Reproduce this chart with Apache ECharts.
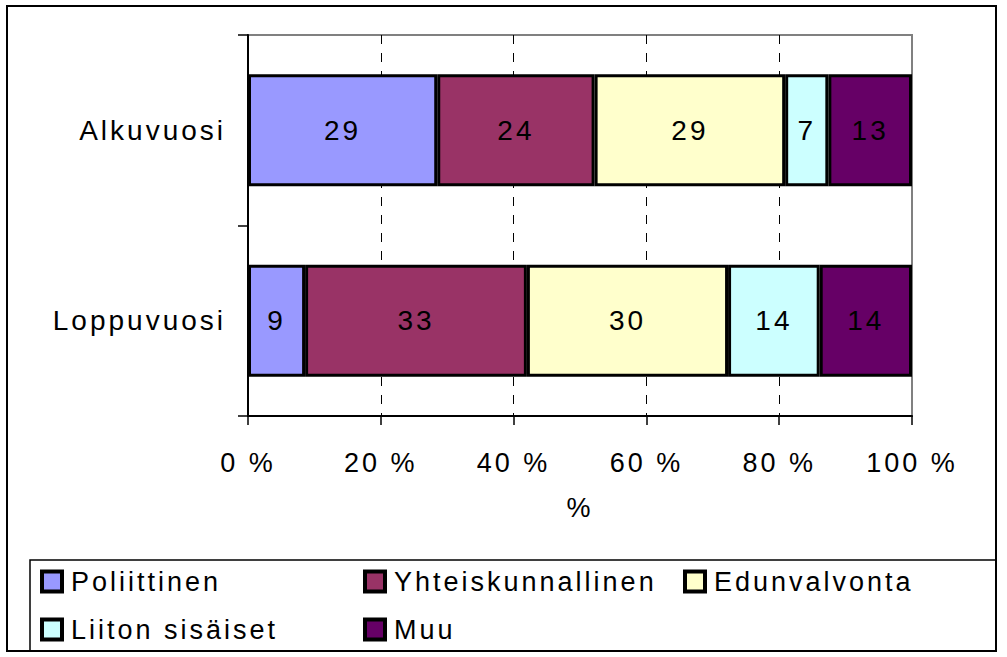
<!DOCTYPE html>
<html>
<head>
<meta charset="utf-8">
<script src="https://cdn.jsdelivr.net/npm/echarts@6/dist/echarts.min.js"></script>
<style>
  html, body { margin: 0; padding: 0; background: #fff; }
  #chart { width: 1007px; height: 657px; }
  #chart text { letter-spacing: 3px; }
</style>
</head>
<body>
<div id="chart"></div>
<script>
// Categories (top to bottom)
var categories = ['Alkuvuosi', 'Loppuvuosi'];
// Series names
var seriesNames = ['Poliittinen', 'Yhteiskunnallinen', 'Edunvalvonta', 'Liiton sisäiset', 'Muu'];
// Shares (%) per series: [Alkuvuosi, Loppuvuosi]
var poliittinen = [28.5, 8.6];
var yhteiskunnallinen = [23.7, 33.4];
var edunvalvonta = [28.7, 30.3];
var liitonSisaiset = [6.5, 13.8];
var muu = [12.6, 13.9];
// X tick values
var xTicks = [0, 20, 40, 60, 80, 100];

var seriesValues = [poliittinen, yhteiskunnallinen, edunvalvonta, liitonSisaiset, muu];
var colors = ['#9999FF', '#993366', '#FFFFCC', '#CCFFFF', '#660066'];

var chart = echarts.init(document.getElementById('chart'), null, { renderer: 'svg' });
var font = 'Liberation Sans, Arial, sans-serif';

var series = seriesNames.map(function (name, i) {
  return {
    name: name,
    type: 'bar',
    stack: 'total',
    barWidth: 112,
    data: seriesValues[i],
    itemStyle: { color: colors[i], borderColor: '#000', borderWidth: 3 },
    label: {
      show: true,
      position: 'inside',
      color: '#000',
      fontFamily: font,
      fontSize: 28,
      formatter: function (p) { return String(Math.round(p.value)); }
    },
    emphasis: { disabled: true }
  };
});

// rich styles for legend boxes
var legendRich = {
  t: { color: '#000', fontSize: 27, fontFamily: font, lineHeight: 30, padding: [0, 0, 0, 11], verticalAlign: 'middle' }
};
colors.forEach(function (c, i) {
  legendRich['b' + i] = { width: 16, height: 16, backgroundColor: c, borderColor: '#000', borderWidth: 4, verticalAlign: 'middle' };
});

var option = {
  animation: false,
  color: colors,
  textStyle: { fontFamily: font },
  grid: {
    left: 248, right: 95, top: 35, bottom: 241,
    show: true, borderColor: '#808080', borderWidth: 2, backgroundColor: 'transparent'
  },
  xAxis: {
    type: 'value',
    min: xTicks[0],
    max: xTicks[xTicks.length - 1],
    interval: xTicks[1] - xTicks[0],
    name: '%',
    nameLocation: 'middle',
    nameGap: 92,
    nameTextStyle: { color: '#000', fontSize: 27, fontFamily: font, verticalAlign: 'middle' },
    axisLine: { show: true, lineStyle: { color: '#000', width: 2 } },
    axisTick: { show: true, length: 9, lineStyle: { color: '#000', width: 1.5 } },
    axisLabel: {
      color: '#000', fontSize: 27, fontFamily: font, margin: 33,
      formatter: '{value} %'
    },
    splitLine: {
      show: true, showMinLine: false, showMaxLine: false,
      lineStyle: { color: '#000', width: 1, type: [9, 9] }
    }
  },
  yAxis: {
    type: 'category',
    inverse: true,
    data: categories,
    axisLine: { show: true, lineStyle: { color: '#000', width: 2 } },
    axisTick: { show: true, length: 10, lineStyle: { color: '#000', width: 1.5 } },
    axisLabel: { color: '#000', fontSize: 28, fontFamily: font, margin: 22 }
  },
  legend: [
    { data: ['Poliittinen', 'Liiton sisäiset'], left: 39 },
    { data: ['Yhteiskunnallinen', 'Muu'], left: 362 },
    { data: ['Edunvalvonta'], left: 682 }
  ].map(function (l) {
    return {
      data: l.data,
      left: l.left,
      top: 568,
      orient: 'vertical',
      itemWidth: 0,
      itemHeight: 20,
      itemGap: 21,
      padding: 0,
      icon: 'rect',
      itemStyle: { opacity: 0, borderWidth: 0 },
      formatter: function (name) {
        return '{b' + seriesNames.indexOf(name) + '|}{t|' + name + '}';
      },
      textStyle: { color: '#000', fontSize: 27, fontFamily: font, rich: legendRich },
      selectedMode: false
    };
  }),
  graphic: [
    { type: 'rect', shape: { x: 7, y: 6, width: 989, height: 645 },
      style: { fill: 'none', stroke: '#000', lineWidth: 2 }, silent: true, z: -1 },
    { type: 'rect', shape: { x: 30, y: 560, width: 966, height: 91 },
      style: { fill: 'none', stroke: '#000', lineWidth: 1.5 }, silent: true, z: -1 }
  ],
  series: series
};

chart.setOption(option);
</script>
</body>
</html>
